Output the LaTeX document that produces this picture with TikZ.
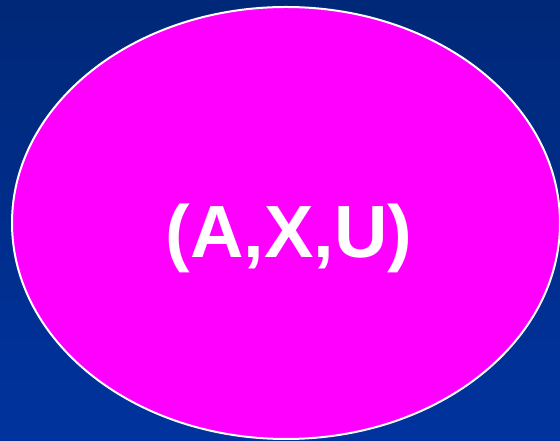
\documentclass[tikz,border=0pt]{standalone}
\usepackage{fontspec}
\setmainfont{Liberation Sans}
\definecolor{bgtop}{RGB}{0,40,120}
\definecolor{bgbot}{RGB}{0,51,158}
\definecolor{mag}{RGB}{255,0,255}
\tikzset{
  blob/.style={draw=white, line width=2pt, fill=mag},
  lbl/.style={text=white, font=\fontsize{74}{80}\selectfont\bfseries, inner sep=0pt}
}
\begin{document}
\begin{tikzpicture}[x=1pt,y=1pt]
\useasboundingbox (0,0) rectangle (560,441);
\shade[top color=bgtop, bottom color=bgbot] (0,0) rectangle (560,441);
\begin{scope}
\clip (0,0) rectangle (560,441);
\draw[blob] (286,218) ellipse [x radius=274, y radius=216];
\end{scope}
\node[lbl, anchor=base] (t) at (289,183) {(A,X,U)};
\end{tikzpicture}
\end{document}
